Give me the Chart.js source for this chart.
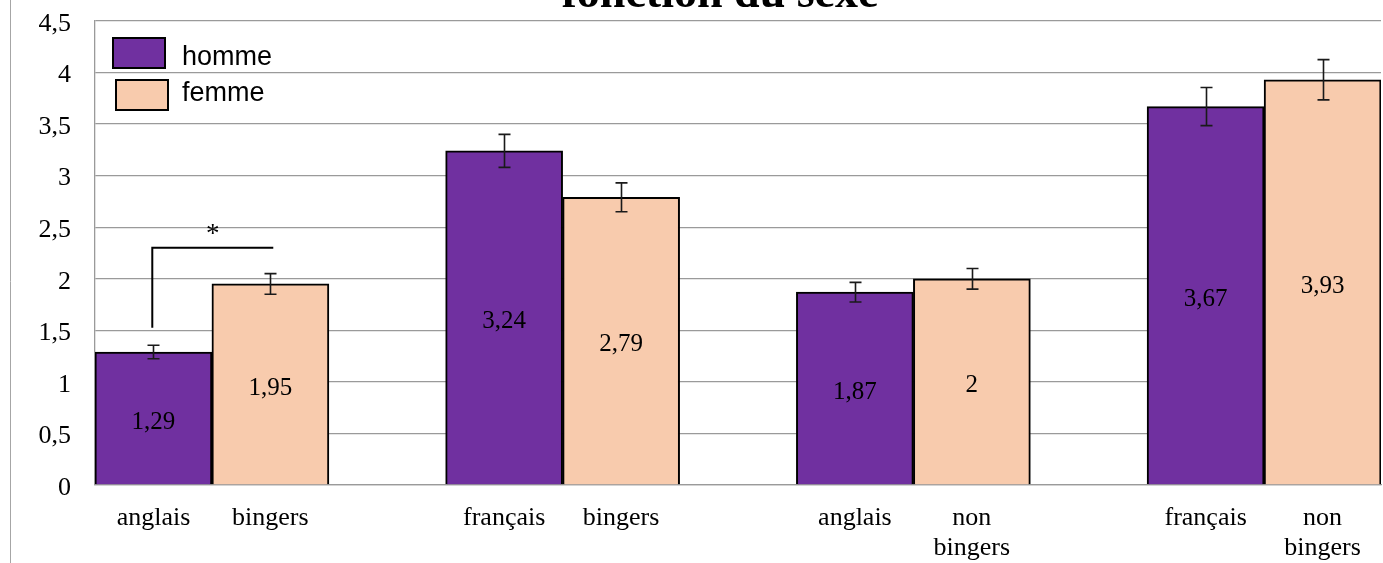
<!DOCTYPE html>
<html>
<head>
<meta charset="utf-8">
<script src="https://cdn.jsdelivr.net/npm/chart.js@4/dist/chart.umd.min.js"></script>
<style>
  html, body { margin: 0; padding: 0; background: #fff; }
  #wrap { position: absolute; left: 0; top: 0; width: 1383px; height: 563px; }
</style>
</head>
<body>
<div id="wrap"><canvas id="c" width="1383" height="563"></canvas></div>
<script>
// ---- data ----
const titleText = 'fonction du sexe';
const groups = ['anglais bingers', 'français bingers', 'anglais non bingers', 'français non bingers'];
const tickLabels = ['anglais', 'bingers', 'français', 'bingers', 'anglais', ['non', 'bingers'], 'français', ['non', 'bingers']];
const seriesNames = ['homme', 'femme'];
const homme = [1.29, 3.24, 1.87, 3.67];
const femme = [1.95, 2.79, 2.00, 3.93];
const hommeErr = [0.065, 0.16, 0.095, 0.185];
const femmeErr = [0.10, 0.14, 0.10, 0.195];
const signif = { label: '*', fromX: -0.17, toX: 0.175, topY: 2.30, bottomY: 1.525, starY: 2.47 };

const fmt = v => String(Math.round(v * 100) / 100).replace('.', ',');

const purple = '#7030A0';
const peach = '#F8CBAD';
const gridGray = '#9a9a9a';

const extras = {
  id: 'extras',
  beforeDraw(chart) {
    const ctx = chart.ctx;
    ctx.save();
    ctx.fillStyle = '#fff';
    ctx.fillRect(0, 0, chart.width, chart.height);
    ctx.strokeStyle = '#a6a6a6';
    ctx.lineWidth = 1;
    ctx.beginPath();
    ctx.moveTo(10.5, 0);
    ctx.lineTo(10.5, chart.height);
    ctx.stroke();
    ctx.restore();
  },
  afterDatasetsDraw(chart) {
    const ctx = chart.ctx;
    const ys = chart.scales.y, xs = chart.scales.x;
    const errs = [hommeErr, femmeErr];
    ctx.save();
    // value labels
    ctx.font = '25px "Liberation Serif"';
    ctx.fillStyle = '#000';
    ctx.textAlign = 'center';
    ctx.textBaseline = 'middle';
    chart.data.datasets.forEach((ds, di) => {
      const meta = chart.getDatasetMeta(di);
      meta.data.forEach((bar, i) => {
        const v = ds.data[i].y;
        ctx.fillText(fmt(v), bar.x, (bar.y + bar.base) / 2 + 4);
      });
    });
    // error bars
    ctx.strokeStyle = '#1a1a1a';
    ctx.lineWidth = 1.6;
    chart.data.datasets.forEach((ds, di) => {
      const meta = chart.getDatasetMeta(di);
      meta.data.forEach((bar, i) => {
        const v = ds.data[i].y, e = errs[di][i];
        const yt = ys.getPixelForValue(v + e), yb = ys.getPixelForValue(v - e);
        const x = Math.round(bar.x) + 0.5;
        ctx.beginPath();
        ctx.moveTo(x, yt); ctx.lineTo(x, yb);
        ctx.moveTo(x - 6, yt); ctx.lineTo(x + 6, yt);
        ctx.moveTo(x - 6, yb); ctx.lineTo(x + 6, yb);
        ctx.stroke();
      });
    });
    // significance bracket
    const x1 = xs.getPixelForValue(signif.fromX), x2 = xs.getPixelForValue(signif.toX);
    const yT = ys.getPixelForValue(signif.topY), yB = ys.getPixelForValue(signif.bottomY);
    ctx.strokeStyle = '#000';
    ctx.lineWidth = 2;
    ctx.beginPath();
    ctx.moveTo(x1, yB); ctx.lineTo(x1, yT); ctx.lineTo(x2, yT);
    ctx.stroke();
    ctx.font = '27px "Liberation Serif"';
    ctx.textBaseline = 'middle';
    ctx.fillText(signif.label, (x1 + x2) / 2, ys.getPixelForValue(signif.starY) + 5);
    ctx.restore();
  },
  afterDraw(chart) {
    const ctx = chart.ctx;
    const area = chart.chartArea;
    ctx.save();
    // legend (drawn inside the plot area, top-left)
    ctx.font = '27px "Liberation Sans"';
    ctx.textAlign = 'left';
    ctx.textBaseline = 'alphabetic';
    chart.data.datasets.forEach((ds, di) => {
      const bx = area.left + 18 + di * 3;
      const by = area.top + 17 + di * 42;
      ctx.fillStyle = ds.backgroundColor;
      ctx.fillRect(bx, by, 52, 30);
      ctx.strokeStyle = '#000';
      ctx.lineWidth = 2;
      ctx.strokeRect(bx, by, 52, 30);
      ctx.fillStyle = '#000';
      ctx.fillText(ds.label, area.left + 87, area.top + 44 + di * 36);
    });
    // title (cut off at the top of the picture)
    ctx.font = 'bold 46px "Liberation Serif"';
    ctx.fillStyle = '#000';
    ctx.textAlign = 'center';
    ctx.textBaseline = 'alphabetic';
    ctx.fillText(titleText, 720, 7);
    ctx.restore();
  }
};

new Chart(document.getElementById('c'), {
  type: 'bar',
  data: {
    datasets: [
      {
        label: seriesNames[0],
        data: homme.map((v, i) => ({ x: i, y: v })),
        backgroundColor: purple, borderColor: '#000', borderWidth: 2,
        barThickness: 117, borderSkipped: 'bottom'
      },
      {
        label: seriesNames[1],
        data: femme.map((v, i) => ({ x: i, y: v })),
        backgroundColor: peach, borderColor: '#000', borderWidth: 2,
        barThickness: 117, borderSkipped: 'bottom'
      }
    ]
  },
  options: {
    responsive: false,
    animation: false,
    events: [],
    layout: { padding: { top: 21, right: 2, bottom: 0, left: 0 } },
    scales: {
      x: {
        type: 'linear',
        min: -1 / 3,
        max: 10 / 3,
        offset: false,
        grid: { display: false, drawTicks: false },
        border: { display: true, color: gridGray, width: 1.3 },
        afterBuildTicks(scale) {
          const t = [];
          groups.forEach((g, i) => { t.push({ value: i - 1 / 6 }); t.push({ value: i + 1 / 6 }); });
          scale.ticks = t;
        },
        afterFit(scale) { scale.height = 78; scale.paddingLeft = 0; scale.paddingRight = 0; },
        ticks: {
          autoSkip: false, maxRotation: 0, minRotation: 0, padding: 18,
          color: '#000',
          font: { family: '"Liberation Serif"', size: 26, lineHeight: 1.15 },
          callback: (v, i) => tickLabels[i]
        }
      },
      y: {
        min: 0, max: 4.5,
        grid: { color: gridGray, lineWidth: 1.3, drawTicks: false },
        border: { display: true, color: gridGray, width: 1.3 },
        afterFit(scale) { scale.width = 95; scale.paddingTop = 0; scale.paddingBottom = 0; },
        ticks: {
          stepSize: 0.5, padding: 24, labelOffset: 3, color: '#000',
          font: { family: '"Liberation Serif"', size: 26 },
          callback: v => fmt(v)
        }
      }
    },
    plugins: {
      title: { display: false },
      tooltip: { enabled: false },
      legend: { display: false }
    }
  },
  plugins: [extras]
});
</script>
</body>
</html>
